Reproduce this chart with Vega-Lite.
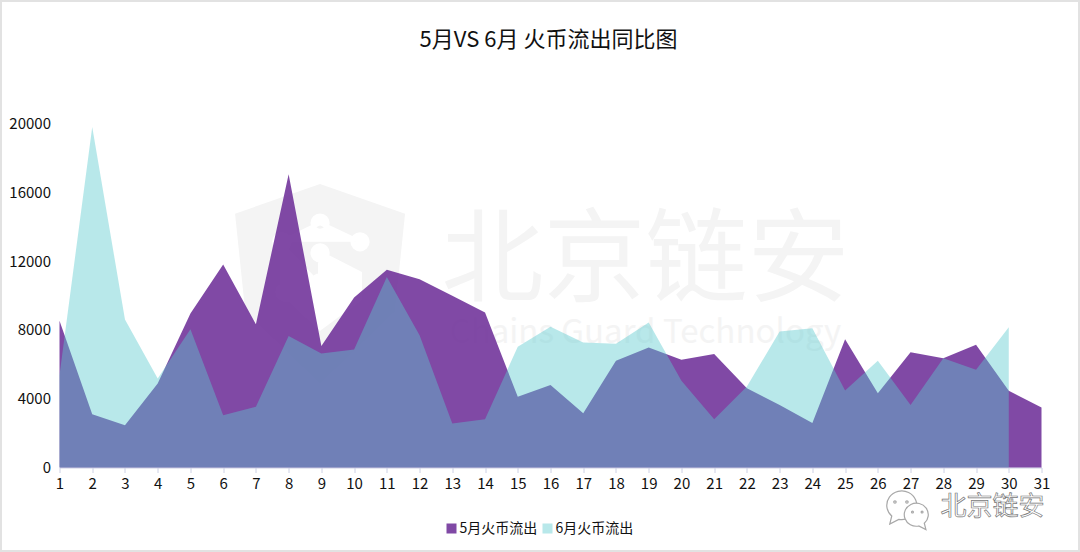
{
  "$schema": "https://vega.github.io/schema/vega-lite/v6.json",
  "width": 982,
  "height": 344,
  "autosize": {"type": "none"},
  "padding": {"left": 59.5, "top": 123.5, "right": 38.5, "bottom": 84.5},
  "background": "white",
  "config": {
    "font": "Noto Sans CJK SC",
    "view": {"stroke": null},
    "axisX": {"labelFlush": false}
  },
  "title": {
    "text": "5月VS 6月 火币流出同比图",
    "fontSize": 22,
    "fontWeight": "normal",
    "color": "#111111",
    "anchor": "middle",
    "dx": -2,
    "offset": -55
  },
  "datasets": {
    "outflow": [
      {"day": 1, "series": "5月火币流出", "value": 8530},
      {"day": 2, "series": "5月火币流出", "value": 3100},
      {"day": 3, "series": "5月火币流出", "value": 2460},
      {"day": 4, "series": "5月火币流出", "value": 4880},
      {"day": 5, "series": "5月火币流出", "value": 8950},
      {"day": 6, "series": "5月火币流出", "value": 11800},
      {"day": 7, "series": "5月火币流出", "value": 8330},
      {"day": 8, "series": "5月火币流出", "value": 17050},
      {"day": 9, "series": "5月火币流出", "value": 7070},
      {"day": 10, "series": "5月火币流出", "value": 9880},
      {"day": 11, "series": "5月火币流出", "value": 11500},
      {"day": 12, "series": "5月火币流出", "value": 10950},
      {"day": 13, "series": "5月火币流出", "value": 9980},
      {"day": 14, "series": "5月火币流出", "value": 9010},
      {"day": 15, "series": "5月火币流出", "value": 4110},
      {"day": 16, "series": "5月火币流出", "value": 4800},
      {"day": 17, "series": "5月火币流出", "value": 3160},
      {"day": 18, "series": "5月火币流出", "value": 6200},
      {"day": 19, "series": "5月火币流出", "value": 6980},
      {"day": 20, "series": "5月火币流出", "value": 6260},
      {"day": 21, "series": "5月火币流出", "value": 6600},
      {"day": 22, "series": "5月火币流出", "value": 4610},
      {"day": 23, "series": "5月火币流出", "value": 3640},
      {"day": 24, "series": "5月火币流出", "value": 2580},
      {"day": 25, "series": "5月火币流出", "value": 7460},
      {"day": 26, "series": "5月火币流出", "value": 4320},
      {"day": 27, "series": "5月火币流出", "value": 6700},
      {"day": 28, "series": "5月火币流出", "value": 6350},
      {"day": 29, "series": "5月火币流出", "value": 7130},
      {"day": 30, "series": "5月火币流出", "value": 4460},
      {"day": 31, "series": "5月火币流出", "value": 3490},
      {"day": 1, "series": "6月火币流出", "value": 5370},
      {"day": 2, "series": "6月火币流出", "value": 19800},
      {"day": 3, "series": "6月火币流出", "value": 8600},
      {"day": 4, "series": "6月火币流出", "value": 5170},
      {"day": 5, "series": "6月火币流出", "value": 8040},
      {"day": 6, "series": "6月火币流出", "value": 3040},
      {"day": 7, "series": "6月火币流出", "value": 3530},
      {"day": 8, "series": "6月火币流出", "value": 7640},
      {"day": 9, "series": "6月火币流出", "value": 6630},
      {"day": 10, "series": "6月火币流出", "value": 6860},
      {"day": 11, "series": "6月火币流出", "value": 11080},
      {"day": 12, "series": "6月火币流出", "value": 7690},
      {"day": 13, "series": "6月火币流出", "value": 2560},
      {"day": 14, "series": "6月火币流出", "value": 2810},
      {"day": 15, "series": "6月火币流出", "value": 7020},
      {"day": 16, "series": "6月火币流出", "value": 8180},
      {"day": 17, "series": "6月火币流出", "value": 7270},
      {"day": 18, "series": "6月火币流出", "value": 7190},
      {"day": 19, "series": "6月火币流出", "value": 8430},
      {"day": 20, "series": "6月火币流出", "value": 5040},
      {"day": 21, "series": "6月火币流出", "value": 2810},
      {"day": 22, "series": "6月火币流出", "value": 4710},
      {"day": 23, "series": "6月火币流出", "value": 7900},
      {"day": 24, "series": "6月火币流出", "value": 8100},
      {"day": 25, "series": "6月火币流出", "value": 4480},
      {"day": 26, "series": "6月火币流出", "value": 6200},
      {"day": 27, "series": "6月火币流出", "value": 3640},
      {"day": 28, "series": "6月火币流出", "value": 6350},
      {"day": 29, "series": "6月火币流出", "value": 5680},
      {"day": 30, "series": "6月火币流出", "value": 8160}
    ]
  },
  "data": {"name": "outflow"},
  "layer": [
    {
      "data": {"values": [{"name": "frame"}]},
      "mark": {
        "type": "point",
        "shape": "M-1,-0.51 L1,-0.51 L1,0.51 L-1,0.51 Z",
        "filled": false,
        "opacity": 1,
        "stroke": "#e2e2e2",
        "strokeWidth": 2,
        "size": 1162084
      },
      "encoding": {
        "x": {"datum": 15.68, "type": "quantitative", "scale": {"domain": [1, 31]}},
        "y": {"datum": 11134, "type": "quantitative", "scale": {"domain": [0, 20000]}}
      }
    },
    {
      "data": {"values": [{"name": "shield"}]},
      "mark": {
        "type": "point",
        "shape": "M0,-1.15 L1,-0.8 L0.88,0.35 L0,1.2 L-0.88,0.35 L-1,-0.8 Z",
        "filled": true,
        "opacity": 1,
        "color": "#f4f4f4",
        "size": 28900
      },
      "encoding": {
        "x": {"datum": 8.96, "type": "quantitative", "scale": {"domain": [1, 31]}},
        "y": {"datum": 10800, "type": "quantitative", "scale": {"domain": [0, 20000]}}
      }
    },
    {
      "data": {"values": [{"name": "shield network"}]},
      "mark": {
        "type": "point",
        "shape": "M-0.09,-0.69 a0.09,0.09 0 1,0 0.18,0 a0.09,0.09 0 1,0 -0.18,0 M0.38,-0.47 a0.09,0.09 0 1,0 0.18,0 a0.09,0.09 0 1,0 -0.18,0 M-0.09,-0.34 a0.09,0.09 0 1,0 0.18,0 a0.09,0.09 0 1,0 -0.18,0 M-0.09,0.01 a0.09,0.09 0 1,0 0.18,0 a0.09,0.09 0 1,0 -0.18,0 M-0.5,0.12 a0.09,0.09 0 1,0 0.18,0 a0.09,0.09 0 1,0 -0.18,0 M-0.54,-0.47 a0.09,0.09 0 1,0 0.18,0 a0.09,0.09 0 1,0 -0.18,0 M-0.45,-0.47 L0,-0.69 L0.47,-0.47 M-0.45,-0.47 L-0.45,0.12 L0,0.55 L0.47,0.2 L0.47,-0.1 L0,-0.34 L0,0.01",
        "filled": true,
        "opacity": 1,
        "fill": "#ffffff",
        "stroke": "#ffffff",
        "strokeWidth": 4,
        "size": 28900
      },
      "encoding": {
        "x": {"datum": 8.96, "type": "quantitative", "scale": {"domain": [1, 31]}},
        "y": {"datum": 10800, "type": "quantitative", "scale": {"domain": [0, 20000]}}
      }
    },
    {
      "data": {"values": [{"label": "北京链安"}]},
      "mark": {"type": "text", "fontSize": 102, "color": "#f4f4f4", "align": "center", "baseline": "middle"},
      "encoding": {
        "x": {"datum": 18.9, "type": "quantitative", "scale": {"domain": [1, 31]}},
        "y": {"datum": 11900, "type": "quantitative", "scale": {"domain": [0, 20000]}},
        "text": {"field": "label"}
      }
    },
    {
      "data": {"values": [{"label": "Chains Guard Technology"}]},
      "mark": {"type": "text", "fontSize": 33, "color": "#f4f4f4", "align": "center", "baseline": "middle"},
      "encoding": {
        "x": {"datum": 18.9, "type": "quantitative", "scale": {"domain": [1, 31]}},
        "y": {"datum": 7820, "type": "quantitative", "scale": {"domain": [0, 20000]}},
        "text": {"field": "label"}
      }
    },
    {
      "mark": {"type": "area", "interpolate": "linear"},
      "encoding": {
        "x": {
          "field": "day",
          "type": "quantitative",
          "title": null,
          "scale": {"domain": [1, 31]},
          "axis": {
            "values": [1, 2, 3, 4, 5, 6, 7, 8, 9, 10, 11, 12, 13, 14, 15, 16, 17, 18, 19, 20, 21, 22, 23, 24, 25, 26, 27, 28, 29, 30, 31],
            "tickCount": 31,
            "format": "d",
            "grid": false,
            "domainColor": "#ccd0e4",
            "tickColor": "#ccd0e4",
            "tickSize": 5,
            "labelFontSize": 15,
            "labelColor": "#111111",
            "labelPadding": 4,
            "labelOverlap": false
          }
        },
        "y": {
          "field": "value",
          "type": "quantitative",
          "stack": null,
          "title": null,
          "scale": {"domain": [0, 20000]},
          "axis": {
            "values": [0, 4000, 8000, 12000, 16000, 20000],
            "format": "d",
            "grid": false,
            "domain": false,
            "ticks": false,
            "labelFontSize": 15,
            "labelColor": "#111111",
            "labelPadding": 9
          }
        },
        "color": {
          "field": "series",
          "type": "nominal",
          "scale": {
            "domain": ["5月火币流出", "6月火币流出"],
            "range": ["rgba(114,53,155,0.9)", "rgba(90,202,207,0.43)"]
          },
          "legend": {
            "title": null,
            "orient": "none",
            "direction": "horizontal",
            "legendX": 385,
            "legendY": 398,
            "symbolType": "square",
            "symbolSize": 100,
            "symbolOpacity": 1,
            "labelFontSize": 14,
            "labelColor": "#111111",
            "labelOffset": 1,
            "columnPadding": 3
          }
        }
      }
    },
    {
      "data": {"values": [{"name": "wechat large"}]},
      "mark": {
        "type": "point",
        "shape": "M-0.45,0.55 L-0.55,0.95 L-0.1,0.72 A0.75,0.72 0 1,0 -0.45,0.55 Z M-0.35,-0.15 a0.06,0.06 0 1,0 0.12,0 a0.06,0.06 0 1,0 -0.12,0 M0.25,-0.15 a0.06,0.06 0 1,0 0.12,0 a0.06,0.06 0 1,0 -0.12,0",
        "filled": true,
        "opacity": 1,
        "fill": "#ffffff",
        "stroke": "#a8a8a8",
        "strokeWidth": 1.2,
        "size": 1600
      },
      "encoding": {
        "x": {"datum": 26.7, "type": "quantitative", "scale": {"domain": [1, 31]}},
        "y": {"datum": -2180, "type": "quantitative", "scale": {"domain": [0, 20000]}}
      }
    },
    {
      "data": {"values": [{"name": "wechat small"}]},
      "mark": {
        "type": "point",
        "shape": "M0.45,0.55 L0.55,0.95 L0.1,0.72 A0.75,0.72 0 1,1 0.45,0.55 Z M-0.35,-0.15 a0.06,0.06 0 1,0 0.12,0 a0.06,0.06 0 1,0 -0.12,0 M0.25,-0.15 a0.06,0.06 0 1,0 0.12,0 a0.06,0.06 0 1,0 -0.12,0",
        "filled": true,
        "opacity": 1,
        "fill": "#ffffff",
        "stroke": "#a8a8a8",
        "strokeWidth": 1.2,
        "size": 1024
      },
      "encoding": {
        "x": {"datum": 27.2, "type": "quantitative", "scale": {"domain": [1, 31]}},
        "y": {"datum": -2730, "type": "quantitative", "scale": {"domain": [0, 20000]}}
      }
    },
    {
      "data": {"values": [{"label": "北京链安"}]},
      "mark": {"type": "text", "fontSize": 26, "color": "#ffffff", "stroke": "#777777", "strokeWidth": 0.7, "align": "center", "baseline": "middle"},
      "encoding": {
        "x": {"datum": 29.5, "type": "quantitative", "scale": {"domain": [1, 31]}},
        "y": {"datum": -2280, "type": "quantitative", "scale": {"domain": [0, 20000]}},
        "text": {"field": "label"}
      }
    }
  ]
}
